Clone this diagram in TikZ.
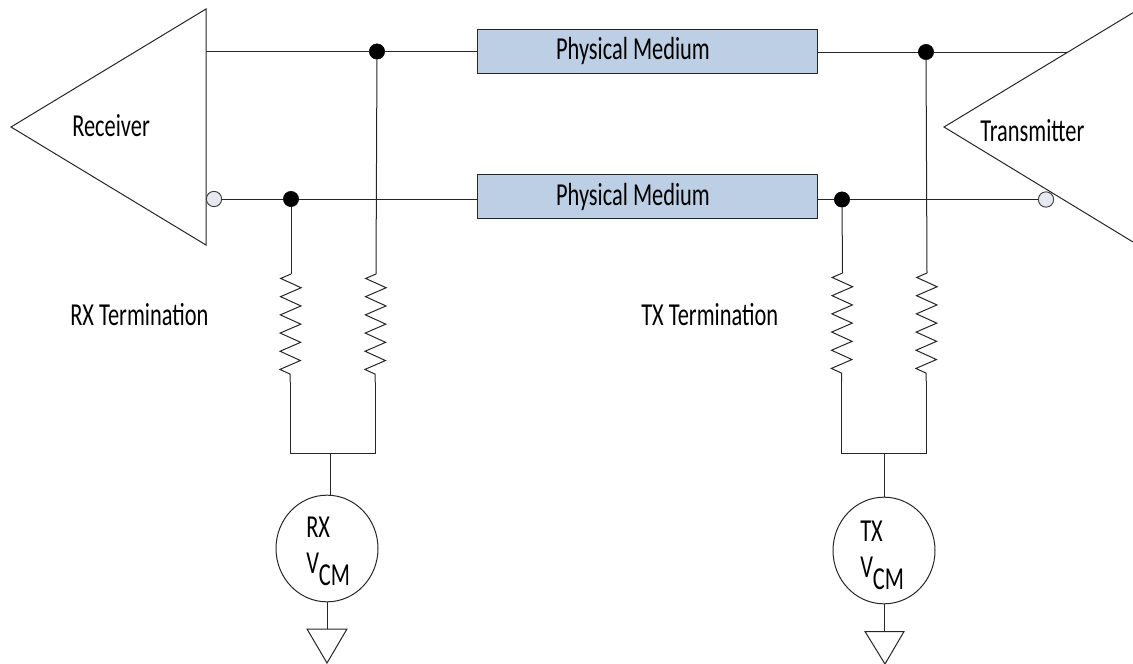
\documentclass[tikz,border=0pt]{standalone}
\usepackage{fontspec}
\usepackage{tikz}
\usetikzlibrary{shapes.geometric, decorations.pathmorphing}
\setmainfont[FakeStretch=0.70]{Carlito}
\definecolor{mediumblue}{HTML}{BDCFE5}
\definecolor{bubblegray}{HTML}{E6E9EF}
\tikzset{
    wire/.style={line width=0.75pt, black!85},
    dot/.style={shape=circle, fill=black, draw=black, inner sep=0pt, minimum size=11.5pt},
    bubble/.style={shape=circle, fill=bubblegray, draw=black!75, line width=0.7pt, inner sep=0pt, minimum size=11.5pt},
    medium/.style={shape=rectangle, fill=mediumblue, draw=black!85, line width=0.75pt, minimum width=255pt, minimum height=33pt, inner sep=0pt, font=\fontsize{24pt}{27pt}\selectfont},
    vcm/.style={shape=ellipse, draw=black!85, line width=0.75pt, minimum width=76.5pt, minimum height=80pt, inner sep=0pt},
    lbl/.style={inner sep=0pt, anchor=base west, font=\fontsize{24pt}{27pt}\selectfont},
    resistor/.style={wire, line join=miter, decorate, decoration={zigzag, segment length=13.65pt, amplitude=7.7pt, mirror}}
}
\begin{document}
\begin{tikzpicture}[x=0.75pt, y=-0.75pt]
    \useasboundingbox (0, 0) rectangle (1133, 664);

    % amplifiers
    \coordinate (RXtip) at (11, 127);
    \coordinate (RXtop) at (206, 9);
    \coordinate (RXbot) at (206, 245);
    \coordinate (RXp) at (206, 51.5);
    \coordinate (TXtip) at (944, 127);
    \coordinate (TXtop) at (1133, 12.7);
    \coordinate (TXbot) at (1133, 242);
    \coordinate (TXp) at (1068, 52);
    \draw [wire] (RXtip) -- (RXtop) -- (RXbot) -- cycle;
    \draw [wire] (TXtop) -- (TXtip) -- (TXbot);

    \node[lbl] (Receiver) at (72, 136) {Receiver};
    \node[lbl] (Transmitter) at (980, 141.7) {Transmitter};
    \node[lbl] (RXterm) at (70, 325) {RX Termination};
    \node[lbl] (TXterm) at (641, 325.7) {TX Termination};

    % physical medium
    \node[medium] (M1) at (647, 51) {\hspace*{-21pt}\raisebox{-1.5pt}{Physical Medium}};
    \node[medium] (M2) at (647, 196.7) {\hspace*{-21pt}\raisebox{-1.5pt}{Physical Medium}};

    \node[bubble] (RXn) at (214, 199) {};
    \node[bubble] (TXn) at (1046, 199.5) {};
    \node[dot] (D1) at (377, 51.5) {};
    \node[dot] (D2) at (291, 199) {};
    \node[dot] (D3) at (926, 52) {};
    \node[dot] (D4) at (842, 199.5) {};

    \path [wire] (RXp) edge (D1);
    \path [wire] (D1) edge (D1 -| M1.west);
    \path [wire] (RXn) edge (D2);
    \path [wire] (D2) edge (D2 -| M2.west);
    \path [wire] (D3 -| M1.east) edge (D3);
    \path [wire] (D3) edge (TXp);
    \path [wire] (D4 -| M2.east) edge (D4);
    \path [wire] (D4) edge (TXn);

    % terminations
    \coordinate (R1a) at (291, 274);
    \coordinate (R1b) at (290, 382);
    \coordinate (R2a) at (376, 274);
    \coordinate (R2b) at (375, 382);
    \coordinate (R3a) at (842.5, 273);
    \coordinate (R3b) at (841.5, 381);
    \coordinate (R4a) at (927, 273);
    \coordinate (R4b) at (926, 381);
    \coordinate (B1a) at (290, 453);
    \coordinate (B1b) at (375, 453);
    \coordinate (B2a) at (841.5, 453);
    \coordinate (B2b) at (926, 453);
    \coordinate (S1) at (330, 453);
    \coordinate (S2) at (884.5, 453);

    \path [wire] (D2) edge (R1a);
    \path [wire] (D1) edge (R2a);
    \path [wire] (D4) edge (R3a);
    \path [wire] (D3) edge (R4a);
    \draw [resistor] (R1a) -- (R1b);
    \draw [resistor] (R2a) -- (R2b);
    \draw [resistor] (R3a) -- (R3b);
    \draw [resistor] (R4a) -- (R4b);
    \draw [wire] (R1b) -- (B1a) -- (B1b) -- (R2b);
    \draw [wire] (R3b) -- (B2a) -- (B2b) -- (R4b);

    % common mode sources
    \node[vcm] (VR) at (327, 548.5) {};
    \node[vcm] (VT) at (884, 550.5) {};
    \node[lbl] (VRt) at (306, 537) {RX};
    \node[lbl] (VRv) at (306, 573) {V\raisebox{-9pt}{CM}};
    \node[lbl] (VTt) at (860, 541) {TX};
    \node[lbl] (VTv) at (860, 577) {V\raisebox{-9pt}{CM}};
    \draw [wire] (S1) -- (S1 |- VR.north);
    \draw [wire] (S2) -- (S2 |- VT.north);

    % grounds
    \coordinate (G1a) at (307, 629);
    \coordinate (G1b) at (347, 629);
    \coordinate (G1c) at (327, 663);
    \coordinate (G2a) at (865, 631.5);
    \coordinate (G2b) at (904, 631.5);
    \coordinate (G2c) at (885, 664);
    \draw [wire] (VR.south) -- (VR.south |- G1a);
    \draw [wire] (VT.south) -- (VT.south |- G2a);
    \draw [wire] (G1a) -- (G1b) -- (G1c) -- cycle;
    \draw [wire] (G2a) -- (G2b) -- (G2c) -- cycle;
\end{tikzpicture}
\end{document}
